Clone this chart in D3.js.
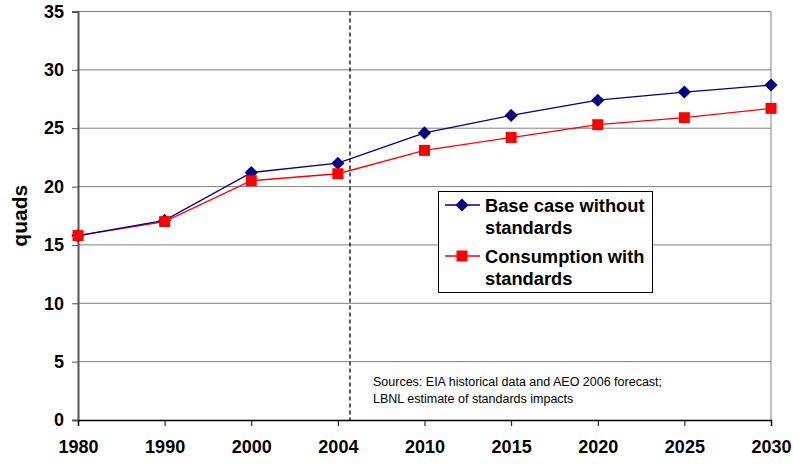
<!DOCTYPE html>
<html><head><meta charset="utf-8">
<script src="https://cdn.jsdelivr.net/npm/d3@7"></script>
<style>body{margin:0;background:#fff;}svg{display:block;font-family:Arial,"Liberation Sans",sans-serif;}</style>
</head><body>
<svg id="c" width="793" height="464"></svg>
<script>
const years = ["1980","1990","2000","2004","2010","2015","2020","2025","2030"];
const baseCase = [15.8, 17.1, 21.2, 22.0, 24.6, 26.1, 27.4, 28.1, 28.7];
const withStandards = [15.8, 17.0, 20.5, 21.1, 23.1, 24.2, 25.3, 25.9, 26.7];
const yTicks = [0,5,10,15,20,25,30,35];
const forecastStartOffset = 0.14; // fraction of the way from 2004 to 2010
const seriesNames = ["Base case without\nstandards", "Consumption with\nstandards"];
const sourceLines = ["Sources: EIA historical data and AEO 2006 forecast;", "LBNL estimate of standards impacts"];

const svg = d3.select("#c");
const L = 78, R = 771, T = 11.5, B = 420;
const x = d3.scalePoint().domain(years).range([L, R]).padding(0);
const y = d3.scaleLinear().domain([0, 35]).range([B, T]);

// gridlines
svg.append("g").selectAll("line").data(yTicks.filter(d => d > 0)).join("line")
  .attr("x1", L).attr("x2", R).attr("y1", d => y(d)).attr("y2", d => y(d))
  .attr("stroke", "#808080").attr("stroke-width", 1);
// right border
svg.append("line").attr("x1", R).attr("x2", R).attr("y1", T).attr("y2", B).attr("stroke", "#808080");

// y axis
const ya = svg.append("g").attr("transform", `translate(${L},0)`)
  .call(d3.axisLeft(y).tickValues(yTicks).tickSize(6).tickPadding(8));
ya.select(".domain").attr("stroke", "#555").attr("stroke-width", 2);
ya.selectAll(".tick line").attr("stroke", "#555");
ya.selectAll("text").attr("font-size", 18).attr("font-weight", "bold").attr("fill", "#000").attr("font-family", "Arial, Liberation Sans, sans-serif");

// x axis
const xa = svg.append("g").attr("transform", `translate(0,${B})`)
  .call(d3.axisBottom(x).tickSize(6).tickPadding(14));
xa.select(".domain").attr("stroke", "#000").attr("stroke-width", 1.5);
xa.selectAll(".tick line").attr("stroke", "#000");
xa.selectAll("text").attr("font-size", 18).attr("font-weight", "bold").attr("fill", "#000").attr("font-family", "Arial, Liberation Sans, sans-serif");

// dashed forecast line
const xd = x("2004") + (x("2010") - x("2004")) * forecastStartOffset;
svg.append("line").attr("x1", xd).attr("x2", xd).attr("y1", T).attr("y2", B)
  .attr("stroke", "#000").attr("stroke-dasharray", "4,3").attr("stroke-width", 1.3);

// y label
svg.append("text").attr("transform", `translate(27,${(T+B)/2}) rotate(-90)`)
  .attr("text-anchor", "middle").attr("font-size", 21).attr("font-weight", "bold").text("quads");

// series
const line = d3.line().x((d, i) => x(years[i])).y(d => y(d));
svg.append("path").datum(withStandards).attr("d", line).attr("fill", "none").attr("stroke", "#ff0000").attr("stroke-width", 1.3);
svg.append("path").datum(baseCase).attr("d", line).attr("fill", "none").attr("stroke", "#000080").attr("stroke-width", 1.3);
const diamond = d3.symbol().type(d3.symbolDiamond2).size(110);
svg.append("g").selectAll("path").data(baseCase).join("path")
  .attr("transform", (d, i) => `translate(${x(years[i])},${y(d)})`).attr("d", diamond).attr("fill", "#000080");
svg.append("g").selectAll("rect").data(withStandards).join("rect")
  .attr("x", (d, i) => x(years[i]) - 5.5).attr("y", d => y(d) - 5.5).attr("width", 11).attr("height", 11).attr("fill", "#ff0000");

// legend
const lg = svg.append("g");
lg.append("rect").attr("x", 438.5).attr("y", 191.5).attr("width", 214).attr("height", 101).attr("fill", "#fff").attr("stroke", "#000");
const legendColors = ["#000080", "#ff0000"];
const rows = [205, 256];
seriesNames.forEach((nm, k) => {
  const cy = rows[k];
  lg.append("line").attr("x1", 445).attr("x2", 480).attr("y1", cy).attr("y2", cy).attr("stroke", legendColors[k]).attr("stroke-width", 1.3);
  if (k === 0) lg.append("path").attr("transform", `translate(462,${cy})`).attr("d", diamond).attr("fill", legendColors[k]);
  else lg.append("rect").attr("x", 456.5).attr("y", cy - 5.5).attr("width", 11).attr("height", 11).attr("fill", legendColors[k]);
  nm.split("\n").forEach((t, j) => {
    lg.append("text").attr("x", 485).attr("y", cy + 6.5 + j * 22.5).attr("font-size", 18.3).attr("font-weight", "bold").text(t);
  });
});

// source note
sourceLines.forEach((t, i) => {
  svg.append("text").attr("x", 373).attr("y", 386 + i * 17).attr("font-size", 12.5).attr("fill", "#000").text(t);
});
</script>
</body></html>
